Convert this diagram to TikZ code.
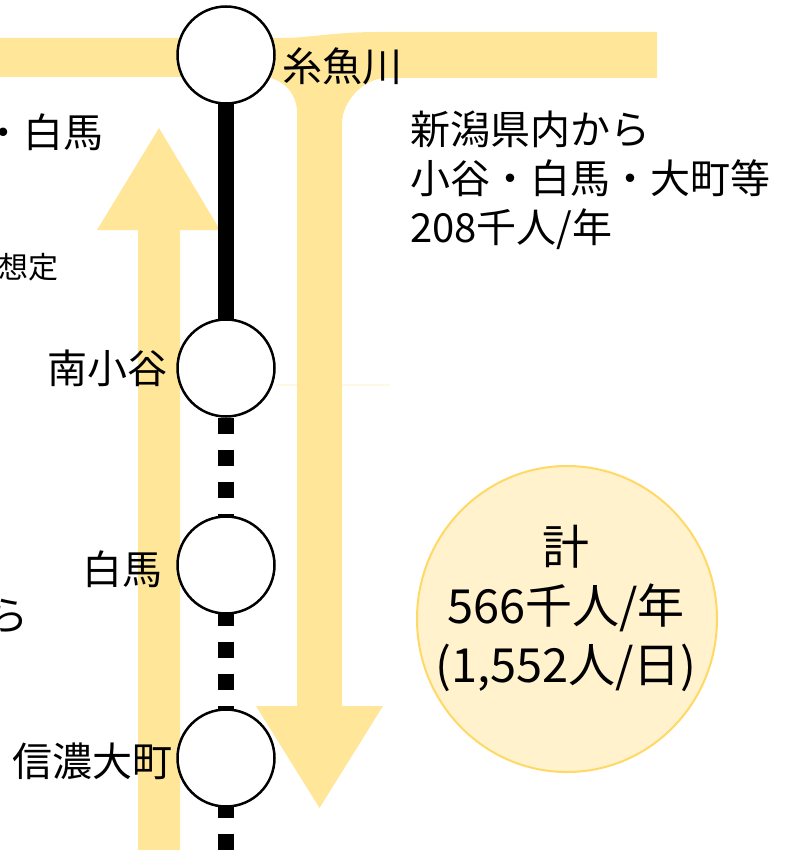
\documentclass[tikz,border=0pt]{standalone}
\usepackage{fontspec}
\newfontfamily\jp{Noto Sans CJK JP}
\usetikzlibrary{shapes.geometric}
\definecolor{band}{HTML}{FFE699}
\definecolor{sumfill}{HTML}{FFF2CC}
\definecolor{sumline}{HTML}{FFD966}
\definecolor{faint}{HTML}{FFF8E6}
\begin{document}
\begin{tikzpicture}[x=1pt,y=-1pt,
  station/.style={circle,draw=black,line width=2.5pt,fill=white,minimum size=97pt,inner sep=0pt},
  lbl/.style={font=\jp\fontsize{40}{49}\selectfont,inner sep=0pt},
  railline/.style={line width=16pt},
  raildash/.style={line width=16pt,dash pattern=on 16pt off 16pt,dash phase=14pt},
  yband/.style={fill=band}]
\useasboundingbox (0,0) rectangle (785,850);
\clip (0,0) rectangle (785,850);

% faint line (behind the bands)
\draw[faint, line width=1.5pt] (276,385) -- (390,385);

% yellow flow: from the left through Itoigawa, from Niigata, turning south
\fill[yband] (0,38) -- (290,38) .. controls (320,36) and (340,32) .. (380,32) -- (657,32) -- (657,78) -- (387,78)
  .. controls (362.2,78) and (342,102.8) .. (342,123) -- (342,706) -- (383,706) -- (319.5,808) -- (256,706) -- (297,706)
  -- (297,112) .. controls (297,92.7) and (281.3,77) .. (262,77) -- (0,77) -- cycle;
% yellow flow: northbound
\fill[yband] (138,860) -- (138,230) -- (97,230) -- (159,128) -- (220,230) -- (180,230) -- (180,860) -- cycle;

% railway
\coordinate (cIt) at (226,55);
\coordinate (cMk) at (226,368);
\coordinate (cHk) at (226,565);
\coordinate (cOm) at (226,758);
\coordinate (cEnd) at (226,870);
\draw[railline] (cIt) -- (cMk);
\draw[raildash] (cMk) -- (cEnd);

\node[station] (it) at (cIt) {};
\node[station] (mk) at (cMk) {};
\node[station] (hk) at (cHk) {};
\node[station] (om) at (cOm) {};

% labels
\node[lbl, anchor=west] (itL) at (282,66) {糸魚川};
\node[lbl, anchor=east] (mkL) at (168,368) {南小谷};
\node[lbl, anchor=east] (hkL) at (163,569) {白馬};
\node[lbl, anchor=east] (omL) at (173,761) {信濃大町};
\node[lbl, anchor=west, align=left] (nii) at (410,180) {新潟県内から\\小谷・白馬・大町等\\208千人/年};
\node[lbl, anchor=east] (lw) at (104,132) {・白馬};
\node[font=\jp\fontsize{30}{36}\selectfont, inner sep=0pt, anchor=east] (sotei) at (59,267) {想定};
\node[lbl, anchor=east] (ra) at (29,616) {ら};

% total
\node[ellipse, draw=sumline, fill=sumfill, line width=2pt, minimum width=300pt, minimum height=306pt, inner sep=0pt] (sum) at (567,619) {};
\node[font=\jp\fontsize{47}{59}\selectfont, align=center, inner sep=0pt] (sumT) at (566,608) {計\\566千人/年\\(1,552人/日)};
\end{tikzpicture}
\end{document}
